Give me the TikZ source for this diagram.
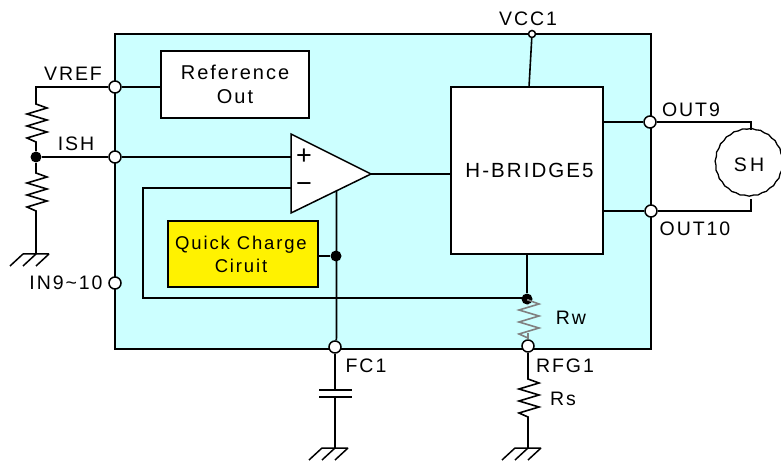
\documentclass[tikz,border=0pt]{standalone}
\usepackage{fontspec}
\setmainfont[LetterSpace=10]{Liberation Sans}
\usetikzlibrary{decorations.pathmorphing}
\definecolor{chip}{HTML}{CCFFFF}
\newcommand{\dn}[1]{\raisebox{-3pt}{#1}}
\tikzset{
 wire/.style={line width=1.6pt,line join=miter},
 blockbox/.style={draw=black,line width=1.5pt,fill=white,inner sep=0pt,align=center},
 pin/.style={circle,draw=black,fill=white,line width=1.5pt,minimum size=12pt,inner sep=0pt},
 dotn/.style={circle,fill=black,minimum size=11pt,inner sep=0pt},
 lbl/.style={inner sep=0pt,font=\fontsize{19.5}{23}\selectfont,align=center},
 pics/resistor/.style={code={\draw[#1,line width=1.6pt,line join=miter]
   (0,-20) -- (0,-19) -- (11,-15) -- (-9,-9) -- (11,-3) -- (-9,3) -- (11,9) -- (-9,15) -- (0,19) -- (0,20);}},
 pics/gnd/.style={code={\draw[line width=1.5pt] (-13,0) -- (13,0)
   (-13,0) -- (-26,12) (0,0) -- (-13,12) (13,0) -- (0,12);}}
}
\begin{document}
\begin{tikzpicture}[x=1pt,y=-1pt]
\useasboundingbox (0,0) rectangle (781,462);
\node[draw=black,line width=1.5pt,fill=chip,minimum width=536pt,minimum height=315pt,inner sep=0pt] (chipbox) at (383,191.5) {};

\node[blockbox,minimum width=148pt,minimum height=67pt,font=\fontsize{20}{24}\selectfont] (refout) at (235,84.5) {\dn{Reference}\\\dn{Out}};
\node[blockbox,minimum width=152pt,minimum height=167pt,font=\fontsize{20.5}{23}\selectfont] (hb) at (527,170.5) {\hspace*{5pt}H-BRIDGE5};
\node[blockbox,fill=yellow,minimum width=150pt,minimum height=66pt,font=\fontsize{18.5}{23}\selectfont] (qc) at (243,254) {\hspace*{-4pt}\dn{Quick Charge}\\\hspace*{-4pt}\dn{Ciruit}};
\draw[blockbox] (291,134) coordinate (oa) -- (371,174) coordinate (oo) -- (291,213) coordinate (ob) -- cycle;
\node[font=\fontsize{27}{27}\selectfont,inner sep=0pt] (plus) at (304,157) {+};
\node[font=\fontsize{27}{27}\selectfont,inner sep=0pt] (minus) at (304,188) {−};

% coordinates
\coordinate (vtop) at (36,87);
\coordinate (gl) at (36,254);
\coordinate (fba) at (143,188);
\coordinate (fbb) at (143,298);
\coordinate (isa) at (291,157);
\coordinate (fbc) at (291,188);
\coordinate (oppt) at (336.5,191);
\coordinate (fcg) at (335,448);
\coordinate (c1) at (335,390);
\coordinate (c2) at (335,397);
\coordinate (rfg) at (528,448);
\coordinate (hbb) at (527,254);
\coordinate (hbt) at (529,87);
\coordinate (o9a) at (603,122);
\coordinate (o10a) at (603,211);
\coordinate (o9b) at (751,122);
\coordinate (o10b) at (751,211);

\node[pin] (pvref) at (115,87) {};
\node[pin] (pish) at (115,157) {};
\node[pin] (pin9) at (115,283) {};
\node[pin,minimum size=7pt] (pvcc) at (532,34) {};
\node[pin] (po9) at (650,122) {};
\node[pin] (po10) at (651,211) {};
\node[pin] (pfc) at (335,347) {};
\node[pin] (prfg) at (528,346) {};
\node[dotn] (jish) at (36,157) {};
\node[dotn] (jqc) at (336,256) {};
\node[dotn] (jrw) at (527,299) {};
\node[draw=black,line width=1.3pt,circle,minimum size=67pt,inner sep=0pt,fill=white,font=\fontsize{19.5}{23}\selectfont,decorate,decoration={snake,amplitude=0.4pt,segment length=9pt}] (sh) at (749,164.5) {S\,H};

\draw[wire] (pvref) -- (refout.west |- pvref);
\draw[wire] (pvref) -- (vtop) -- (36,103);
\draw[wire] (36,143) -- (jish);
\draw[wire] (jish) -- (36,172);
\draw[wire] (36,212) -- (gl);
\draw[wire] (jish) -- (pish);
\draw[wire] (pish) -- (isa);
\draw[wire] (oo) -- (hb.west |- oo);
\draw[wire] (fbc) -- (fba) -- (fbb) -- (jrw |- fbb);
\draw[wire] (oppt) -- (336.5,338) -- (pfc);
\draw[wire] (qc.east |- jqc) -- (jqc);
\draw[wire] (hbb) -- (jrw);
\draw[wire] (hbt) -- (pvcc);
\draw[wire] (o9a) -- (po9) -- (o9b) -- (sh.north -| o9b);
\draw[wire] (o10a) -- (po10) -- (o10b) -- (sh.south -| o10b);
\draw[wire] (pfc) -- (c1);
\draw[wire] (c2) -- (fcg);
\draw[wire] (319,390) -- (352,390) (319,397) -- (352,397);
\draw[wire] (prfg) -- (528,378);
\draw[wire] (528,418) -- (rfg);
\draw[line width=1.6pt,draw=gray] (jrw) -- (528,305) (528,333) -- (prfg);

\pic at (36,123) {resistor};
\pic at (36,192) {resistor};
\pic at (528,398) {resistor};
\begin{scope}[shift={(528,319)},yscale=.7]
\pic {resistor=gray};
\end{scope}
\pic at (gl) {gnd};
\pic at (fcg) {gnd};
\pic at (rfg) {gnd};

\node[lbl] (lvref) at (73,74) {VREF};
\node[lbl] (lish) at (76,144) {ISH};
\node[lbl] (lin) at (66,283) {IN9\textasciitilde 10};
\node[lbl] (lvcc) at (528,19) {VCC1};
\node[lbl] (lo9) at (691,110) {OUT9};
\node[lbl] (lo10) at (695,229) {OUT10};
\node[lbl] (lfc) at (366,366) {FC1};
\node[lbl] (lrfg) at (565,366) {RFG1};
\node[lbl] (lrs) at (563,399) {Rs};
\node[lbl] (lrw) at (571,318) {Rw};
\end{tikzpicture}
\end{document}
